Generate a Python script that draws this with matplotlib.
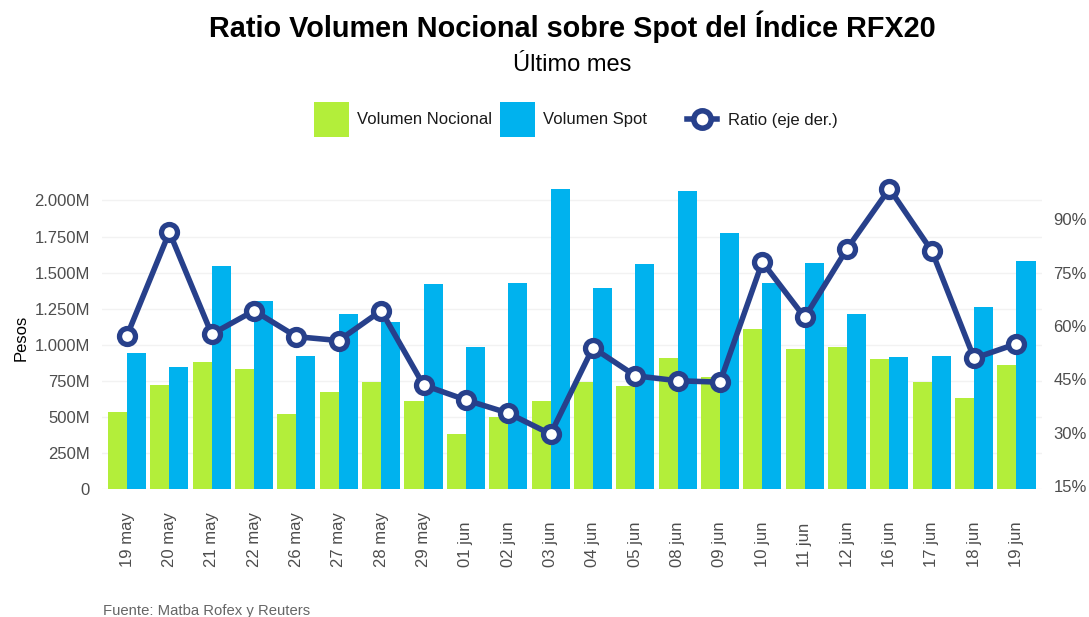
import matplotlib
matplotlib.use('Agg')
import matplotlib.pyplot as plt
import numpy as np
from matplotlib.patches import Patch
from matplotlib.lines import Line2D
from matplotlib.ticker import FuncFormatter, FixedLocator

plt.rcParams['font.family'] = ['Liberation Sans', 'DejaVu Sans']

# ---------------- data ----------------
fechas = ['19 may', '20 may', '21 may', '22 may', '26 may', '27 may', '28 may',
          '29 may', '01 jun', '02 jun', '03 jun', '04 jun', '05 jun', '08 jun',
          '09 jun', '10 jun', '11 jun', '12 jun', '16 jun', '17 jun', '18 jun',
          '19 jun']
# millones de pesos
volumen_nocional = [534, 721, 881, 830, 518, 671, 740, 610, 382, 497, 610,
                    742, 714, 909, 775, 1110, 969, 983, 900, 742, 631, 860]
volumen_spot = [943, 844, 1545, 1306, 920, 1212, 1161, 1422, 983, 1427, 2081,
                1394, 1561, 2065, 1778, 1431, 1566, 1214, 916, 925, 1260, 1579]
# porcentaje
ratio = [57.3, 86.4, 57.7, 64.3, 57.0, 55.9, 64.3, 43.4, 39.2, 35.5, 29.6,
         53.9, 46.0, 44.6, 44.2, 78.0, 62.4, 81.7, 98.6, 81.1, 50.9, 55.0]

left_ticks = [0, 250, 500, 750, 1000, 1250, 1500, 1750, 2000]
right_ticks = [15, 30, 45, 60, 75, 90]

titulo = 'Ratio Volumen Nocional sobre Spot del Índice RFX20'
subtitulo = 'Último mes'
fuente = 'Fuente: Matba Rofex y Reuters'

# ---------------- style ----------------
GREEN = '#B3EE3A'
BLUE = '#00B2EE'
NAVY = '#27408B'
TICK_COLOR = '#4D4D4D'

W, H = 1089, 617
fig = plt.figure(figsize=(W / 100, H / 100), dpi=100)
fig.patch.set_facecolor('white')

px_left, px_right = 101.6, 1041.9
px_bottom, px_top = 489.0, 180.0
ax = fig.add_axes([px_left / W, 1 - px_bottom / H,
                   (px_right - px_left) / W, (px_bottom - px_top) / H])

x = np.arange(len(fechas)) + 1
bw = 0.45
ax.bar(x - bw / 2, volumen_nocional, width=bw, color=GREEN, linewidth=0, zorder=2)
ax.bar(x + bw / 2, volumen_spot, width=bw, color=BLUE, linewidth=0, zorder=2)

ax.set_xlim(0.4, len(fechas) + 0.6)
ax.set_ylim(0, 2142.1)
ax.yaxis.set_major_locator(FixedLocator(left_ticks))


def fmt_m(v, pos):
    if v == 0:
        return '0'
    return f'{int(round(v)):,}'.replace(',', '.') + 'M'


ax.yaxis.set_major_formatter(FuncFormatter(fmt_m))
ax.set_axisbelow(True)
ax.yaxis.grid(True, color='#F2F2F2', linewidth=1.0)
ax.xaxis.grid(False)
for s in ax.spines.values():
    s.set_visible(False)

ax.set_xticks(x)
ax.set_xticklabels(fechas, rotation=90, va='bottom', ha='center')
ax.tick_params(axis='x', length=0, pad=56.2, labelsize=12, colors=TICK_COLOR)
ax.tick_params(axis='y', length=0, pad=8.3, labelsize=12, colors=TICK_COLOR)

ax.set_ylabel('Pesos', fontsize=12, color='black')
ax.yaxis.set_label_coords((28.5 - px_left) / (px_right - px_left), 0.4887)

ax2 = ax.twinx()
ax2.set_ylim(14.16, 101.05)
ax2.yaxis.set_major_locator(FixedLocator(right_ticks))
ax2.yaxis.set_major_formatter(FuncFormatter(lambda v, p: f'{int(round(v))}%'))
ax2.tick_params(axis='y', length=0, pad=8.2, labelsize=12, colors=TICK_COLOR)
for s in ax2.spines.values():
    s.set_visible(False)

ax2.plot(x, ratio, color=NAVY, linewidth=4, marker='o', markersize=11.5,
         markerfacecolor='white', markeredgecolor=NAVY, markeredgewidth=3.8,
         clip_on=False, zorder=5)

# ---------------- titles ----------------
fig.text(572 / W, 1 - 36.7 / H, titulo, ha='center', va='baseline',
         fontsize=20.8, fontweight='bold', color='black')
fig.text(572.5 / W, 1 - 71 / H, subtitulo, ha='center', va='baseline',
         fontsize=17, color='black')
fig.text(102.7 / W, 1 - 615.5 / H, fuente, ha='left', va='baseline',
         fontsize=10.7, color='#666666')

# ---------------- legends ----------------
fs = 12
leg1 = fig.legend(handles=[Patch(facecolor=GREEN, edgecolor='none', label='Volumen Nocional'),
                           Patch(facecolor=BLUE, edgecolor='none', label='Volumen Spot')],
                  loc='center left', bbox_to_anchor=(314 / W, 1 - 119.5 / H), ncol=2,
                  frameon=False, fontsize=fs, handlelength=2.08, handleheight=2.79,
                  handletextpad=0.48, columnspacing=0.5, borderpad=0, borderaxespad=0,
                  labelcolor='#1A1A1A')
leg2 = fig.legend(handles=[Line2D([0], [0], color=NAVY, linewidth=4, marker='o',
                                  markersize=12.5, markerfacecolor='white',
                                  markeredgecolor=NAVY, markeredgewidth=4,
                                  label='Ratio (eje der.)')],
                  loc='center left', bbox_to_anchor=(687 / W, 1 - 120.3 / H),
                  frameon=False, fontsize=fs, handlelength=1.8, handleheight=0.7,
                  handletextpad=0.66, borderpad=0, borderaxespad=0,
                  labelcolor='#1A1A1A')

fig.savefig('out.png', dpi=100, facecolor='white')
